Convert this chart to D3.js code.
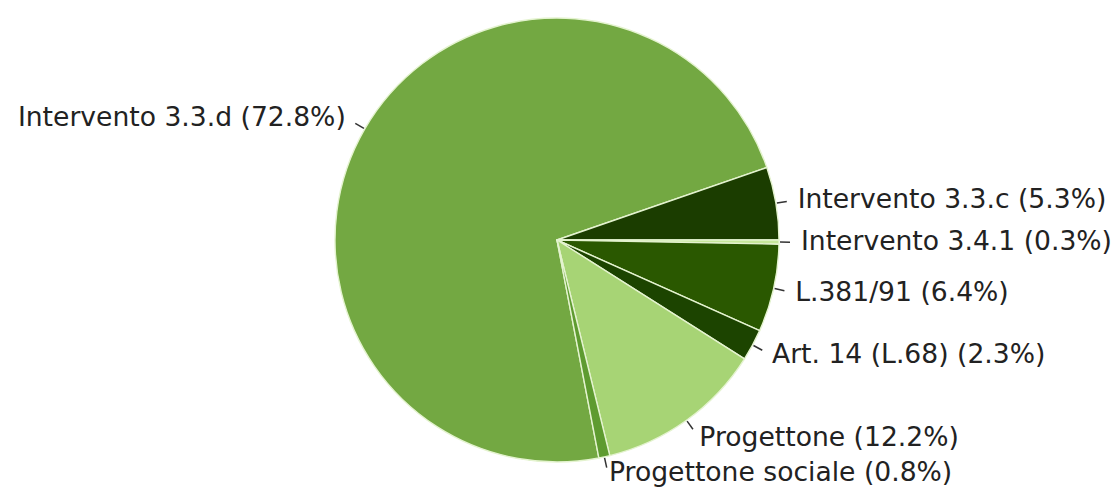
<!DOCTYPE html>
<html>
<head>
<meta charset="utf-8">
<script src="https://cdn.jsdelivr.net/npm/d3@7"></script>
<style>
  html, body { margin: 0; padding: 0; background: #fff; }
  svg { display: block; }
</style>
</head>
<body>
<svg id="chart" width="1119" height="488"></svg>
<script>
// Funding sources, in drawing order (clockwise)
const categories = [
  "Intervento 3.3.d",
  "Intervento 3.3.c",
  "Intervento 3.4.1",
  "L.381/91",
  "Art. 14 (L.68)",
  "Progettone",
  "Progettone sociale"
];
const shares = [72.8, 5.3, 0.3, 6.4, 2.3, 12.2, 0.8];
const colors = ["#73a842", "#1b3d00", "#c6e79a", "#2a5800", "#1c4400", "#a7d475", "#5e9b30"];

const width = 1119, height = 488;
const svg = d3.select("#chart");
const cx = 557, cy = 240, radius = 222;
const fontSize = 26.6;
const total = d3.sum(shares);

// Rotate so the second slice ends exactly at 3 o'clock
const start = Math.PI / 2 - 2 * Math.PI * (shares[0] + shares[1]) / total;

const pie = d3.pie()
  .sort(null)
  .value(d => d.value)
  .startAngle(start)
  .endAngle(start + 2 * Math.PI);

const data = categories.map((c, i) => ({ name: c, value: shares[i], color: colors[i] }));
const arcs = pie(data);

const arc = d3.arc().innerRadius(0).outerRadius(radius);

const g = svg.append("g").attr("transform", `translate(${cx},${cy})`);

g.selectAll("path.slice")
  .data(arcs)
  .join("path")
  .attr("class", "slice")
  .attr("d", arc)
  .attr("fill", d => d.data.color)
  .attr("stroke", "#e4f3cf")
  .attr("stroke-width", 1.4)
  .attr("stroke-linejoin", "round");

const mid = d => (d.startAngle + d.endAngle) / 2;
const pt = (a, r) => [Math.sin(a) * r, -Math.cos(a) * r];

// Leader ticks
g.selectAll("line.tick")
  .data(arcs)
  .join("line")
  .attr("class", "tick")
  .attr("x1", d => pt(mid(d), radius + 1)[0])
  .attr("y1", d => pt(mid(d), radius + 1)[1])
  .attr("x2", d => pt(mid(d), radius + 11)[0])
  .attr("y2", d => pt(mid(d), radius + 11)[1])
  .attr("stroke", "#333")
  .attr("stroke-width", 1.5);

// Labels: baseline kept clear of the bottom edge
const maxBaseline = height - cy - fontSize * 0.25;
const fmt = v => `${v.toFixed(1)}%`;
g.selectAll("text.label")
  .data(arcs)
  .join("text")
  .attr("class", "label")
  .attr("x", d => pt(mid(d), radius + 22)[0])
  .attr("y", d => Math.min(pt(mid(d), radius + 22)[1] + fontSize * 0.3, maxBaseline))
  .attr("text-anchor", d => Math.sin(mid(d)) >= 0 ? "start" : "end")
  .attr("font-family", "'DejaVu Sans', sans-serif")
  .attr("font-size", fontSize)
  .attr("fill", "#222")
  .text(d => `${d.data.name} (${fmt(d.data.value)})`);
</script>
</body>
</html>
